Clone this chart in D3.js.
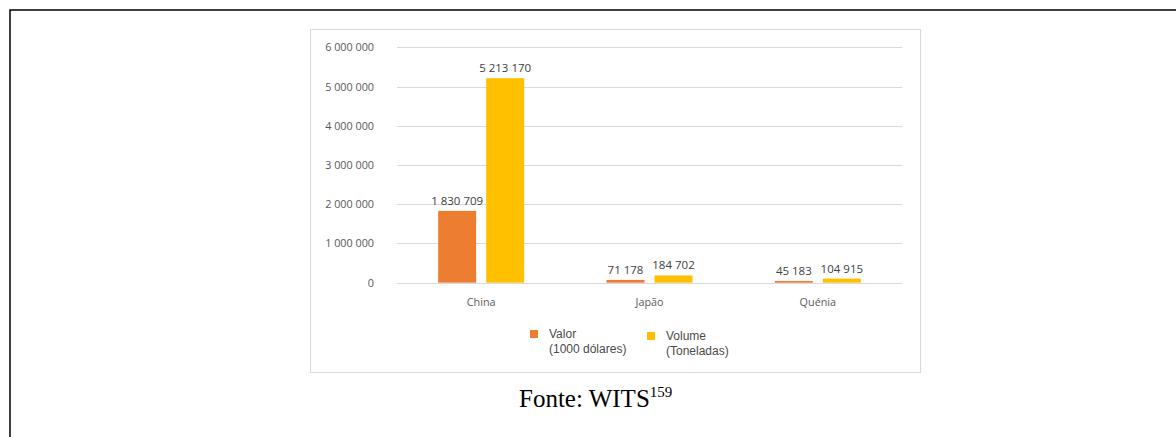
<!DOCTYPE html>
<html>
<head>
<meta charset="utf-8">
<script src="https://cdn.jsdelivr.net/npm/d3@7"></script>
<style>
  body { margin: 0; background: #fff; }
  svg { display: block; }
</style>
</head>
<body>
<svg id="chart"></svg>
<script>
var categories = ["China", "Japão", "Quénia"];
var seriesNames = ["Valor|(1000 dólares)", "Volume|(Toneladas)"];
var valor = [1830709, 71178, 45183];
var volume = [5213170, 184702, 104915];
var yTicks = [0, 1000000, 2000000, 3000000, 4000000, 5000000, 6000000];

var settings = { width: 1176, height: 437 };
var colors = ["#ED7D31", "#FFC000"];

var svg = d3.select("#chart")
    .attr("width", settings.width)
    .attr("height", settings.height);

// page frame (top + left edge)
svg.append("path")
    .attr("d", "M10,437 L10,10 L1176,10")
    .attr("fill", "none")
    .attr("stroke", "#000")
    .attr("stroke-width", 1.5);

// chart box
svg.append("rect")
    .attr("x", 310.5).attr("y", 29.5)
    .attr("width", 610).attr("height", 343)
    .attr("fill", "#fff")
    .attr("stroke", "#D9D9D9");

var locale = d3.formatLocale({ decimal: ",", thousands: " ", grouping: [3], currency: ["", ""] });
var fmt = locale.format(",d");

var x = d3.scaleBand().domain(categories).range([397, 902]);
var y = d3.scaleLinear().domain([0, 6000000]).range([282.7, 47.3]);

var series = [valor, volume];
var barW = 38, gap = 10;

// gridlines
svg.append("g")
    .selectAll("line")
    .data(yTicks)
    .join("line")
    .attr("x1", 397).attr("x2", 902)
    .attr("y1", d => Math.round(y(d)) + 0.5)
    .attr("y2", d => Math.round(y(d)) + 0.5)
    .attr("stroke", "#D9D9D9");

// y axis labels
var yAxis = d3.axisLeft(y).tickValues(yTicks).tickSize(0).tickPadding(0).tickFormat(fmt);
svg.append("g")
    .attr("transform", "translate(374,0)")
    .call(yAxis)
    .call(g => g.select(".domain").remove())
    .selectAll("text")
    .attr("font-family", "Open Sans")
    .attr("font-size", 10.8)
    .attr("fill", "#595959");

// bars
categories.forEach(function(c, i) {
    var cx = x(c) + x.bandwidth() / 2;
    series.forEach(function(s, j) {
        var bx = j === 0 ? cx - gap / 2 - barW : cx + gap / 2;
        svg.append("rect")
            .attr("x", bx)
            .attr("y", y(s[i]))
            .attr("width", barW)
            .attr("height", y(0) - y(s[i]))
            .attr("fill", colors[j]);
        svg.append("text")
            .attr("x", bx + barW / 2)
            .attr("y", y(s[i]) - 6)
            .attr("text-anchor", "middle")
            .attr("font-family", "Open Sans")
            .attr("font-size", 11.5)
            .attr("fill", "#404040")
            .text(fmt(s[i]));
    });
});

// x axis labels
var xAxis = d3.axisBottom(x).tickSize(0).tickPadding(0);
svg.append("g")
    .attr("transform", "translate(0,298)")
    .call(xAxis)
    .call(g => g.select(".domain").remove())
    .selectAll("text")
    .attr("font-family", "Open Sans")
    .attr("font-size", 10.8)
    .attr("fill", "#595959");

// legend
var legendX = [530, 647], legendY = [330, 332];
seriesNames.forEach(function(n, j) {
    var lg = svg.append("g");
    lg.append("rect")
        .attr("x", legendX[j]).attr("y", legendY[j])
        .attr("width", 8).attr("height", 8)
        .attr("fill", colors[j]);
    var lines = n.split("|");
    lg.append("text")
        .attr("x", legendX[j] + 19)
        .attr("y", legendY[j] + 8)
        .attr("font-family", "Liberation Sans")
        .attr("font-size", 12)
        .attr("fill", "#4a4a4a")
        .selectAll("tspan")
        .data(lines)
        .join("tspan")
        .attr("x", legendX[j] + 19)
        .attr("dy", (d, k) => k === 0 ? 0 : 15)
        .text(d => d);
});

// caption
var cap = svg.append("text")
    .attr("x", 519).attr("y", 407)
    .attr("font-family", "Liberation Serif")
    .attr("font-size", 25)
    .attr("fill", "#000");
cap.append("tspan").text("Fonte: WITS");
cap.append("tspan").attr("font-size", 15).attr("dy", -10).text("159");
</script>
</body>
</html>
